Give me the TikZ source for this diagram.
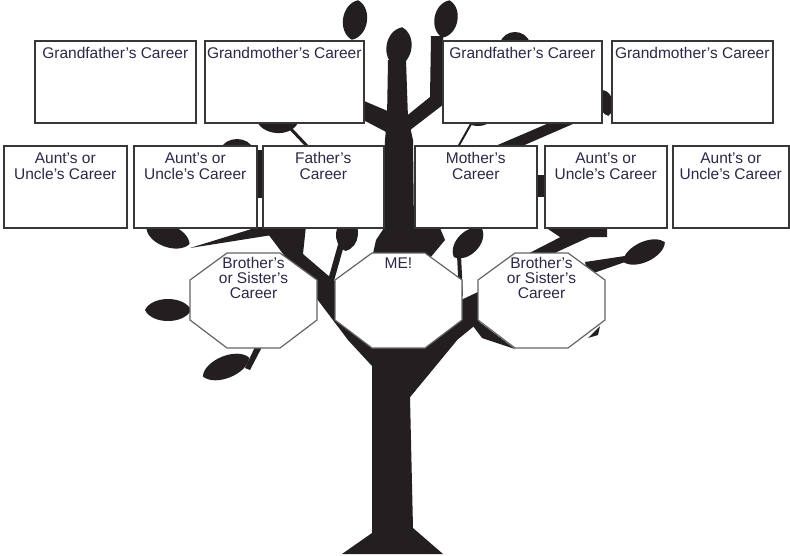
\documentclass[tikz,border=0pt]{standalone}
\usepackage{fontspec}
\setmainfont{Liberation Sans}
\definecolor{tree}{RGB}{35,31,32}
\definecolor{boxline}{RGB}{55,55,55}
\definecolor{octline}{RGB}{100,100,100}
\definecolor{txt}{RGB}{45,40,70}
\newcommand\myleaf[5]{\fill[tree,shift={(#1,#2)},rotate={0-(#5)}] (-#3/2,0) .. controls (-#3*0.35,#4*0.667) and (#3*0.35,#4*0.667) .. (#3/2,0) .. controls (#3*0.35,-#4*0.667) and (-#3*0.35,-#4*0.667) .. (-#3/2,0) -- cycle;}
\newcommand\myoctagon[2]{\filldraw[oct] (#2-26.5,253) -- (#2+26.5,253) -- (#2+63.5,280) -- (#2+63.5,320) -- (#2+26.5,348) -- (#2-26.5,348) -- (#2-63.5,320) -- (#2-63.5,280) -- cycle; \coordinate (#1) at (#2,253);}
\begin{document}
\begin{tikzpicture}[x=1pt,y=-1pt,
  box/.style={draw=boxline, line width=1.5pt, fill=white, inner sep=0pt, anchor=north west, minimum width=#1, minimum height=82pt},
  oct/.style={fill=white, draw=octline, line width=1.2pt},
  lbl/.style={anchor=base, inner sep=0pt, text=txt, font=\fontsize{15.5}{16}\selectfont, align=center},
  olbl/.style={anchor=base, inner sep=0pt, text=txt, font=\fontsize{15.5}{15}\selectfont, align=center}]
\useasboundingbox (0,0) rectangle (790,555);
\fill[white] (0,0) rectangle (790,555);

% ---------- tree ----------
% trunk and left branch
\fill[tree] (342,554) -- (372,533) -- (372,366) -- (348,340) -- (262,226) -- (306,226) -- (303,254) -- (345,290) -- (400,330) -- (430,345) -- (457,340) -- (410,397) -- (413,528) -- (443,554) -- cycle;
% right branch
\fill[tree] (410,397) -- (457,340) -- (484,318) -- (525,275) -- (525,260) -- (510,260) -- (478,292) -- (461,300) -- (400,330) -- cycle;
\fill[tree] (470,322) -- (478,321) -- (515,349) -- (482,338) -- cycle;
\fill[tree] (512,262) -- (535,262) -- (607,229) -- (580,227) -- cycle;
\fill[tree] (545,227) -- (607,227) -- (607,237) -- (560,237) -- cycle;
% upper trunk
\fill[tree] (388,60) -- (406,60) -- (408,118) -- (413,140) -- (414,228) -- (440,228) -- (445,240) -- (430,258) -- (372,258) -- (376,240) -- (384,228) -- (385,140) -- (387,118) -- cycle;
% upper branches
\fill[tree] (350,95) -- (390,112) -- (390,134) -- (350,113) -- cycle;
\fill[tree] (404,118) -- (430,97) -- (431,36) -- (443,36) -- (444,104) -- (405,134) -- cycle;
% branches between rows
\fill[tree] (493,147) -- (520,147) -- (582,120) -- (556,120) -- cycle;
\draw[tree, line width=3pt] (290,128) -- (308,147);
\draw[tree, line width=2pt] (471,124) -- (458,147);
\fill[tree] (254,150) rectangle (263,198);
\fill[tree] (535,175) rectangle (545,197);
% branches near the octagons
\fill[tree] (190,248) -- (258,227) -- (275,227) -- (272,235) -- cycle;
\draw[tree, line width=6pt] (341,245) -- (330,284);
\draw[tree, line width=4pt] (459,255) -- (461,296);
\fill[tree] (245,368) -- (255,347) -- (262,347) -- (250,370) -- cycle;
\fill[tree] (585,262) -- (625,256) -- (625,262) -- (588,275) -- cycle;
\fill[tree] (588,338) -- (600,326) -- (598,335) -- cycle;
% leaves
\myleaf{355}{20}{40}{24}{99}
\myleaf{399}{47}{40}{25}{99}
\myleaf{446}{19}{38}{23}{101}
\myleaf{515}{43}{30}{22}{0}
\myleaf{606}{103}{26}{14}{80}
\myleaf{277}{121}{42}{24}{5}
\myleaf{237}{150}{34}{22}{0}
\myleaf{478}{119}{28}{14}{0}
\myleaf{168}{236}{46}{22}{20}
\myleaf{347}{234}{34}{22}{95}
\myleaf{468}{243}{40}{22}{135}
\myleaf{644}{252}{46}{20}{-25}
\myleaf{168}{310}{46}{22}{0}
\myleaf{226}{367}{50}{22}{-22}

% ---------- boxes ----------
\node[box=161pt] (gfl) at (34,40) {};
\node[box=159pt] (gml) at (204,40) {};
\node[box=159pt] (gfr) at (442,40) {};
\node[box=161pt] (gmr) at (611,40) {};
\node[box=123pt] (au1) at (3,145) {};
\node[box=123pt] (au2) at (133,145) {};
\node[box=121pt] (fa) at (262,145) {};
\node[box=122pt] (mo) at (414,145) {};
\node[box=122pt] (au3) at (544,145) {};
\node[box=116pt] (au4) at (672,145) {};

\node[lbl] (gflt) at ([yshift=-18pt]gfl.north) {Grandfather's Career};
\node[lbl] (gmlt) at ([yshift=-18pt]gml.north) {Grandmother's Career};
\node[lbl] (gfrt) at ([yshift=-18pt]gfr.north) {Grandfather's Career};
\node[lbl] (gmrt) at ([yshift=-18pt]gmr.north) {Grandmother's Career};
\node[lbl] (au1t) at ([yshift=-34pt]au1.north) {Aunt's or\\Uncle's Career};
\node[lbl] (au2t) at ([yshift=-34pt]au2.north) {Aunt's or\\Uncle's Career};
\node[lbl] (fat) at ([yshift=-34pt]fa.north) {Father's\\Career};
\node[lbl] (mot) at ([yshift=-34pt]mo.north) {Mother's\\Career};
\node[lbl] (au3t) at ([yshift=-34pt]au3.north) {Aunt's or\\Uncle's Career};
\node[lbl] (au4t) at ([yshift=-34pt]au4.north) {Aunt's or\\Uncle's Career};

% ---------- octagons ----------
\myoctagon{oc1}{253.5}
\myoctagon{oc2}{398.5}
\myoctagon{oc3}{541.5}
\node[olbl] (oc1t) at ([yshift=-45pt]oc1) {Brother's\\or Sister's\\Career};
\node[olbl] (met) at ([yshift=-15pt]oc2) {ME!};
\node[olbl] (oc3t) at ([yshift=-45pt]oc3) {Brother's\\or Sister's\\Career};
\end{tikzpicture}
\end{document}
